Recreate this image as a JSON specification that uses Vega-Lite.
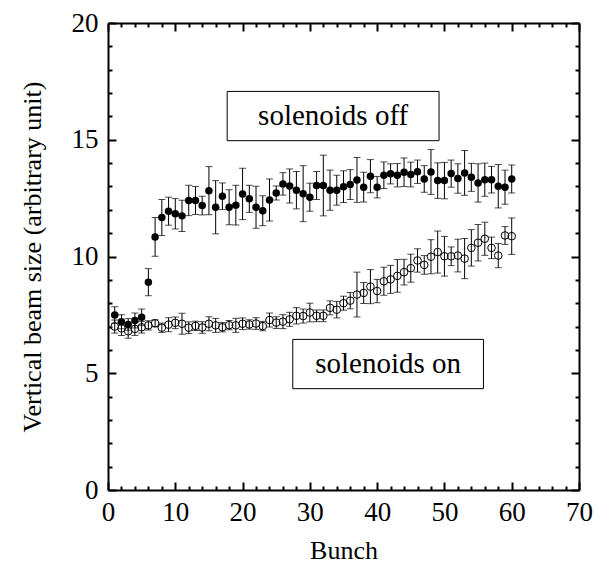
{
  "$schema": "https://vega.github.io/schema/vega-lite/v6.json",
  "width": 471,
  "height": 467,
  "autosize": "none",
  "padding": {"left": 108, "top": 23, "right": 16, "bottom": 80},
  "background": "white",
  "config": {
    "view": {"stroke": null},
    "axis": {
      "grid": false,
      "domainColor": "black",
      "domainWidth": 2,
      "tickColor": "black",
      "tickWidth": 2,
      "labelFont": "Liberation Serif",
      "titleFont": "Liberation Serif",
      "labelColor": "black",
      "titleColor": "black",
      "labelFontSize": 27,
      "titleFontSize": 26,
      "titleFontWeight": "normal"
    }
  },
  "datasets": {
    "beam": [
      {"bunch": 1, "state": "off", "size": 7.5, "err": 0.35},
      {"bunch": 2, "state": "off", "size": 7.21, "err": 0.3},
      {"bunch": 3, "state": "off", "size": 7.09, "err": 0.25},
      {"bunch": 4, "state": "off", "size": 7.26, "err": 0.32},
      {"bunch": 5, "state": "off", "size": 7.4, "err": 0.35},
      {"bunch": 6, "state": "off", "size": 8.9, "err": 0.58},
      {"bunch": 7, "state": "off", "size": 10.84, "err": 0.83},
      {"bunch": 8, "state": "off", "size": 11.67, "err": 0.77},
      {"bunch": 9, "state": "off", "size": 11.94, "err": 0.6},
      {"bunch": 10, "state": "off", "size": 11.83, "err": 0.65},
      {"bunch": 11, "state": "off", "size": 11.74, "err": 0.67},
      {"bunch": 12, "state": "off", "size": 12.4, "err": 0.65},
      {"bunch": 13, "state": "off", "size": 12.4, "err": 0.6},
      {"bunch": 14, "state": "off", "size": 12.18, "err": 0.4},
      {"bunch": 15, "state": "off", "size": 12.82, "err": 1.03},
      {"bunch": 16, "state": "off", "size": 12.11, "err": 1.14},
      {"bunch": 17, "state": "off", "size": 12.58, "err": 0.57},
      {"bunch": 18, "state": "off", "size": 12.11, "err": 0.75},
      {"bunch": 19, "state": "off", "size": 12.2, "err": 0.85},
      {"bunch": 20, "state": "off", "size": 12.68, "err": 1.1},
      {"bunch": 21, "state": "off", "size": 12.47, "err": 0.58},
      {"bunch": 22, "state": "off", "size": 12.11, "err": 0.9},
      {"bunch": 23, "state": "off", "size": 11.96, "err": 0.64},
      {"bunch": 24, "state": "off", "size": 12.42, "err": 0.9},
      {"bunch": 25, "state": "off", "size": 12.72, "err": 0.3},
      {"bunch": 26, "state": "off", "size": 13.11, "err": 0.48},
      {"bunch": 27, "state": "off", "size": 13.02, "err": 0.73},
      {"bunch": 28, "state": "off", "size": 12.84, "err": 0.8},
      {"bunch": 29, "state": "off", "size": 12.69, "err": 1.2},
      {"bunch": 30, "state": "off", "size": 12.54, "err": 0.6},
      {"bunch": 31, "state": "off", "size": 13.04, "err": 0.6},
      {"bunch": 32, "state": "off", "size": 13.04, "err": 1.3},
      {"bunch": 33, "state": "off", "size": 12.84, "err": 0.86},
      {"bunch": 34, "state": "off", "size": 12.84, "err": 0.64},
      {"bunch": 35, "state": "off", "size": 12.99, "err": 0.68},
      {"bunch": 36, "state": "off", "size": 13.08, "err": 0.64},
      {"bunch": 37, "state": "off", "size": 13.28, "err": 0.96},
      {"bunch": 38, "state": "off", "size": 12.97, "err": 0.64},
      {"bunch": 39, "state": "off", "size": 13.44, "err": 0.71},
      {"bunch": 40, "state": "off", "size": 12.97, "err": 0.46},
      {"bunch": 41, "state": "off", "size": 13.48, "err": 0.57},
      {"bunch": 42, "state": "off", "size": 13.54, "err": 0.43},
      {"bunch": 43, "state": "off", "size": 13.48, "err": 0.5},
      {"bunch": 44, "state": "off", "size": 13.61, "err": 0.61},
      {"bunch": 45, "state": "off", "size": 13.51, "err": 0.53},
      {"bunch": 46, "state": "off", "size": 13.63, "err": 0.5},
      {"bunch": 47, "state": "off", "size": 13.32, "err": 0.57},
      {"bunch": 48, "state": "off", "size": 13.62, "err": 0.96},
      {"bunch": 49, "state": "off", "size": 13.25, "err": 0.76},
      {"bunch": 50, "state": "off", "size": 13.25, "err": 0.78},
      {"bunch": 51, "state": "off", "size": 13.55, "err": 0.58},
      {"bunch": 52, "state": "off", "size": 13.34, "err": 0.63},
      {"bunch": 53, "state": "off", "size": 13.58, "err": 0.96},
      {"bunch": 54, "state": "off", "size": 13.39, "err": 0.6},
      {"bunch": 55, "state": "off", "size": 13.15, "err": 0.82},
      {"bunch": 56, "state": "off", "size": 13.29, "err": 0.71},
      {"bunch": 57, "state": "off", "size": 13.29, "err": 0.57},
      {"bunch": 58, "state": "off", "size": 13.01, "err": 0.93},
      {"bunch": 59, "state": "off", "size": 12.97, "err": 0.73},
      {"bunch": 60, "state": "off", "size": 13.32, "err": 0.6},
      {"bunch": 1, "state": "on", "size": 7.0, "err": 0.28},
      {"bunch": 2, "state": "on", "size": 6.92, "err": 0.3},
      {"bunch": 3, "state": "on", "size": 6.8, "err": 0.3},
      {"bunch": 4, "state": "on", "size": 6.9, "err": 0.28},
      {"bunch": 5, "state": "on", "size": 6.97, "err": 0.25},
      {"bunch": 6, "state": "on", "size": 7.05, "err": 0.2},
      {"bunch": 7, "state": "on", "size": 7.14, "err": 0.15},
      {"bunch": 8, "state": "on", "size": 6.95, "err": 0.2},
      {"bunch": 9, "state": "on", "size": 7.08, "err": 0.3},
      {"bunch": 10, "state": "on", "size": 7.16, "err": 0.25},
      {"bunch": 11, "state": "on", "size": 7.12, "err": 0.45},
      {"bunch": 12, "state": "on", "size": 6.95, "err": 0.25},
      {"bunch": 13, "state": "on", "size": 7.03, "err": 0.2},
      {"bunch": 14, "state": "on", "size": 6.96, "err": 0.25},
      {"bunch": 15, "state": "on", "size": 7.12, "err": 0.3},
      {"bunch": 16, "state": "on", "size": 7.05, "err": 0.3},
      {"bunch": 17, "state": "on", "size": 6.97, "err": 0.2},
      {"bunch": 18, "state": "on", "size": 7.06, "err": 0.2},
      {"bunch": 19, "state": "on", "size": 7.05, "err": 0.3},
      {"bunch": 20, "state": "on", "size": 7.12, "err": 0.25},
      {"bunch": 21, "state": "on", "size": 7.09, "err": 0.2},
      {"bunch": 22, "state": "on", "size": 7.13, "err": 0.25},
      {"bunch": 23, "state": "on", "size": 7.02, "err": 0.2},
      {"bunch": 24, "state": "on", "size": 7.28, "err": 0.3},
      {"bunch": 25, "state": "on", "size": 7.17, "err": 0.25},
      {"bunch": 26, "state": "on", "size": 7.21, "err": 0.3},
      {"bunch": 27, "state": "on", "size": 7.31, "err": 0.3},
      {"bunch": 28, "state": "on", "size": 7.46, "err": 0.35},
      {"bunch": 29, "state": "on", "size": 7.45, "err": 0.3},
      {"bunch": 30, "state": "on", "size": 7.6, "err": 0.4},
      {"bunch": 31, "state": "on", "size": 7.46, "err": 0.25},
      {"bunch": 32, "state": "on", "size": 7.46, "err": 0.25},
      {"bunch": 33, "state": "on", "size": 7.8, "err": 0.3},
      {"bunch": 34, "state": "on", "size": 7.72, "err": 0.35},
      {"bunch": 35, "state": "on", "size": 8.0, "err": 0.3},
      {"bunch": 36, "state": "on", "size": 8.11, "err": 0.35},
      {"bunch": 37, "state": "on", "size": 8.37, "err": 0.96},
      {"bunch": 38, "state": "on", "size": 8.44, "err": 0.45},
      {"bunch": 39, "state": "on", "size": 8.71, "err": 0.73},
      {"bunch": 40, "state": "on", "size": 8.52, "err": 0.5},
      {"bunch": 41, "state": "on", "size": 8.94, "err": 0.6},
      {"bunch": 42, "state": "on", "size": 9.02, "err": 0.6},
      {"bunch": 43, "state": "on", "size": 9.17, "err": 0.7},
      {"bunch": 44, "state": "on", "size": 9.33, "err": 0.55},
      {"bunch": 45, "state": "on", "size": 9.5, "err": 0.6},
      {"bunch": 46, "state": "on", "size": 9.83, "err": 0.5},
      {"bunch": 47, "state": "on", "size": 9.64, "err": 0.4},
      {"bunch": 48, "state": "on", "size": 9.99, "err": 0.73},
      {"bunch": 49, "state": "on", "size": 10.19, "err": 0.9},
      {"bunch": 50, "state": "on", "size": 10.01, "err": 0.85},
      {"bunch": 51, "state": "on", "size": 10.01, "err": 0.4},
      {"bunch": 52, "state": "on", "size": 10.04, "err": 0.7},
      {"bunch": 53, "state": "on", "size": 9.91, "err": 0.86},
      {"bunch": 54, "state": "on", "size": 10.37, "err": 0.78},
      {"bunch": 55, "state": "on", "size": 10.59, "err": 0.78},
      {"bunch": 56, "state": "on", "size": 10.76, "err": 0.71},
      {"bunch": 57, "state": "on", "size": 10.37, "err": 0.46},
      {"bunch": 58, "state": "on", "size": 10.04, "err": 0.52},
      {"bunch": 59, "state": "on", "size": 10.9, "err": 0.38},
      {"bunch": 60, "state": "on", "size": 10.87, "err": 0.78}
    ]
  },
  "data": {"name": "beam"},
  "resolve": {"axis": {"x": "independent", "y": "independent"}},
  "layer": [
    {
      "transform": [{"filter": "datum.state === 'off'"}],
      "mark": {"type": "errorbar", "color": "black", "thickness": 1, "ticks": {"size": 7, "thickness": 1, "color": "black"}},
      "encoding": {
        "x": {"field": "bunch", "type": "quantitative", "scale": {"domain": [0, 70], "nice": false, "zero": false},
          "axis": {"orient": "bottom", "title": "Bunch", "values": [0, 10, 20, 30, 40, 50, 60, 70], "tickSize": -8, "labelPadding": 17, "titlePadding": 12, "labelFlush": false, "labelOverlap": false}},
        "y": {"field": "size", "type": "quantitative", "scale": {"domain": [0, 20], "nice": false, "zero": false},
          "axis": {"orient": "left", "title": "Vertical beam size (arbitrary unit)", "values": [0, 5, 10, 15, 20], "tickSize": -8, "labelPadding": 18, "titlePadding": 26, "labelFlush": false, "labelOverlap": false}},
        "yError": {"field": "err"}
      }
    },
    {
      "transform": [{"filter": "datum.state === 'on'"}],
      "mark": {"type": "errorbar", "color": "black", "thickness": 1, "ticks": {"size": 7, "thickness": 1, "color": "black"}},
      "encoding": {
        "x": {"field": "bunch", "type": "quantitative", "scale": {"domain": [0, 70], "nice": false, "zero": false},
          "axis": {"orient": "top", "title": null, "values": [0, 10, 20, 30, 40, 50, 60, 70], "tickSize": -8, "labels": false}},
        "y": {"field": "size", "type": "quantitative", "scale": {"domain": [0, 20], "nice": false, "zero": false},
          "axis": {"orient": "right", "title": null, "values": [0, 5, 10, 15, 20], "tickSize": -8, "labels": false}},
        "yError": {"field": "err"}
      }
    },
    {
      "transform": [{"filter": "datum.state === 'off'"}],
      "mark": {"type": "point", "shape": "circle", "filled": true, "color": "black", "size": 56, "opacity": 1},
      "encoding": {
        "x": {"field": "bunch", "type": "quantitative", "scale": {"domain": [0, 70], "nice": false, "zero": false},
          "axis": {"orient": "bottom", "title": null, "labels": false, "domain": false, "tickSize": -4, "values": [2, 4, 6, 8, 12, 14, 16, 18, 22, 24, 26, 28, 32, 34, 36, 38, 42, 44, 46, 48, 52, 54, 56, 58, 62, 64, 66, 68]}},
        "y": {"field": "size", "type": "quantitative", "scale": {"domain": [0, 20], "nice": false, "zero": false},
          "axis": {"orient": "left", "title": null, "labels": false, "domain": false, "tickSize": -4, "values": [1, 2, 3, 4, 6, 7, 8, 9, 11, 12, 13, 14, 16, 17, 18, 19]}}
      }
    },
    {
      "transform": [{"filter": "datum.state === 'on'"}],
      "mark": {"type": "point", "shape": "circle", "filled": false, "stroke": "black", "fill": "white", "fillOpacity": 0, "strokeWidth": 1, "size": 58, "opacity": 1},
      "encoding": {
        "x": {"field": "bunch", "type": "quantitative", "scale": {"domain": [0, 70], "nice": false, "zero": false},
          "axis": {"orient": "top", "title": null, "labels": false, "domain": false, "tickSize": -4, "values": [2, 4, 6, 8, 12, 14, 16, 18, 22, 24, 26, 28, 32, 34, 36, 38, 42, 44, 46, 48, 52, 54, 56, 58, 62, 64, 66, 68]}},
        "y": {"field": "size", "type": "quantitative", "scale": {"domain": [0, 20], "nice": false, "zero": false},
          "axis": {"orient": "right", "title": null, "labels": false, "domain": false, "tickSize": -4, "values": [1, 2, 3, 4, 6, 7, 8, 9, 11, 12, 13, 14, 16, 17, 18, 19]}}
      }
    },
    {
      "data": {"values": [{"label": "solenoids off"}]},
      "mark": {"type": "rect", "fill": "white", "stroke": "black", "strokeWidth": 1},
      "encoding": {
        "x": {"datum": 17.71, "type": "quantitative", "axis": null},
        "x2": {"datum": 49.2},
        "y": {"datum": 17.07, "type": "quantitative", "axis": null},
        "y2": {"datum": 14.96}
      }
    },
    {
      "data": {"values": [{"label": "solenoids on"}]},
      "mark": {"type": "rect", "fill": "white", "stroke": "black", "strokeWidth": 1},
      "encoding": {
        "x": {"datum": 27.46, "type": "quantitative", "axis": null},
        "x2": {"datum": 55.8},
        "y": {"datum": 6.45, "type": "quantitative", "axis": null},
        "y2": {"datum": 4.34}
      }
    },
    {
      "data": {"values": [{"label": "solenoids off"}]},
      "mark": {"type": "text", "font": "Liberation Serif", "fontSize": 29, "color": "black", "align": "center", "baseline": "middle"},
      "encoding": {
        "x": {"datum": 33.46, "type": "quantitative", "axis": null},
        "y": {"datum": 16.0, "type": "quantitative", "axis": null},
        "text": {"field": "label"}
      }
    },
    {
      "data": {"values": [{"label": "solenoids on"}]},
      "mark": {"type": "text", "font": "Liberation Serif", "fontSize": 29, "color": "black", "align": "center", "baseline": "middle"},
      "encoding": {
        "x": {"datum": 41.63, "type": "quantitative", "axis": null},
        "y": {"datum": 5.39, "type": "quantitative", "axis": null},
        "text": {"field": "label"}
      }
    }
  ]
}
